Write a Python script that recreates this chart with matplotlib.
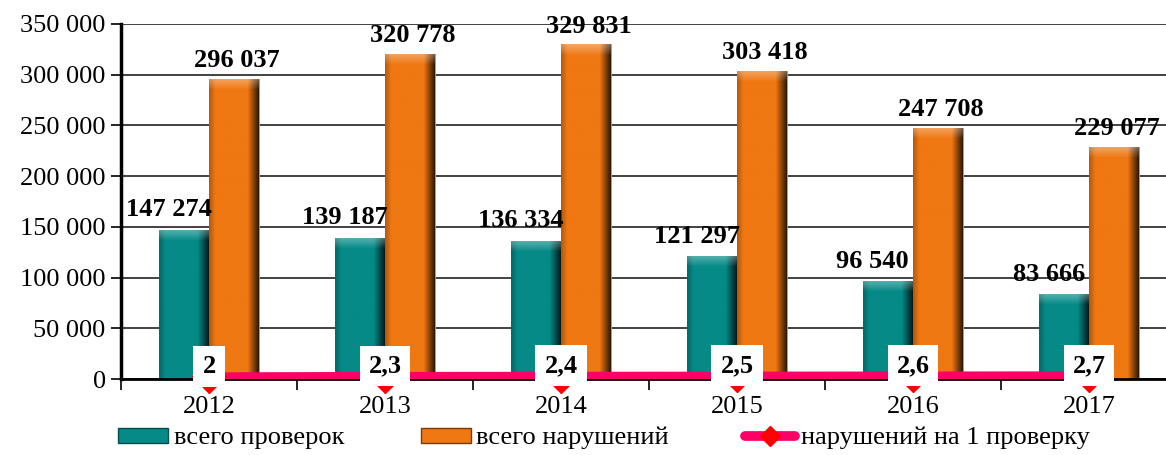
import numpy as np
import matplotlib
matplotlib.use('Agg')
import matplotlib.pyplot as plt
from matplotlib.patches import Patch
from matplotlib.lines import Line2D
from matplotlib.ticker import FuncFormatter, FixedLocator

# данные
years = ['2012', '2013', '2014', '2015', '2016', '2017']
proverki = [147274, 139187, 136334, 121297, 96540, 83666]
narusheniya = [296037, 320778, 329831, 303418, 247708, 229077]
na_proverku = [2, 2.3, 2.4, 2.5, 2.6, 2.7]
na_proverku_txt = ['2', '2,3', '2,4', '2,5', '2,6', '2,7']

teal = '#058a87'
orange = '#f07812'
pink = '#ff0066'

plt.rcParams['font.family'] = ['Liberation Serif', 'DejaVu Serif']

fig = plt.figure(figsize=(11.66, 4.55), dpi=100)
ax = fig.add_axes([121/1166, 76/455, 1056/1166, 355/455])

x = np.arange(len(years))
w = 0.284


def shade(bars, base):
    # имитация объёмной заливки
    c = np.array(matplotlib.colors.to_rgb(base))
    t = np.linspace(0, 1, 60)
    k = np.where(t < 0.12, 0.75 + 2.0*t, np.where(t > 0.78, 1 - (t - 0.78)*3.6, 1.0))
    img = np.clip(c[None, None, :] * k[None, :, None], 0, 1)
    hl = np.zeros((20, 1, 4))
    hl[:, 0, :3] = 1.0
    hl[:, 0, 3] = np.linspace(0.35, 0.0, 20)
    dh = 11000
    for b in bars:
        x0, y0, bw, bh = b.get_x(), b.get_y(), b.get_width(), b.get_height()
        im = ax.imshow(img, extent=(x0, x0 + bw, y0, y0 + bh), aspect='auto',
                       zorder=2.1, interpolation='bilinear')
        im.set_clip_path(b)
        im2 = ax.imshow(hl, extent=(x0, x0 + bw, y0 + bh - dh, y0 + bh), aspect='auto',
                        zorder=2.2, interpolation='bilinear')
        im2.set_clip_path(b)


b1 = ax.bar(x - w/2, proverki, w, color=teal, edgecolor='#9a9a9a', lw=0.6, zorder=2)
b2 = ax.bar(x + w/2, narusheniya, w, color=orange, edgecolor='#9a9a9a', lw=0.6, zorder=2)
shade(b1, teal)
shade(b2, orange)

for b, v in zip(b1, proverki):
    ax.annotate(f'{v:,}'.replace(',', ' '), (b.get_x() + b.get_width()/2, v),
                xytext=(-11, 6), textcoords='offset points', ha='center', va='bottom',
                fontsize=19, fontweight='bold', zorder=5)
for b, v in zip(b2, narusheniya):
    ax.annotate(f'{v:,}'.replace(',', ' '), (b.get_x() + b.get_width()/2, v),
                xytext=(2, 5), textcoords='offset points', ha='center', va='bottom',
                fontsize=19, fontweight='bold', zorder=5)

ax.set_xlim(-0.5, 5.5)
ax.set_ylim(0, 350000)
ax.yaxis.set_major_locator(FixedLocator(np.arange(0, 350001, 50000)))
ax.yaxis.set_major_formatter(FuncFormatter(lambda v, p: f'{int(v):,}'.replace(',', ' ')))
ax.set_xticks(x)
ax.set_xticklabels(years)
ax.set_xticks(np.arange(-0.5, 6, 1), minor=True)
ax.tick_params(axis='x', which='major', length=0, pad=12, labelsize=19)
ax.tick_params(axis='x', which='minor', length=8, width=1.2, color='black')
ax.tick_params(axis='y', length=7, width=1.2, labelsize=19, pad=4)
ax.grid(axis='y', color='#333333', lw=1.3, zorder=0)
ax.set_axisbelow(True)
for s in ['top', 'right']:
    ax.spines[s].set_visible(False)
ax.spines['left'].set_linewidth(2.5)
ax.spines['bottom'].set_linewidth(2)

ax2 = ax.twinx()
ax2.set_ylim(0, 250)
ax2.axis('off')
ax2.plot(x, na_proverku, color=pink, lw=5.5, solid_capstyle='butt', zorder=3)
ax2.plot(x, na_proverku, ls='none', marker='D', ms=17, color='#ff0000', zorder=4, clip_on=False)
for i, (v, t) in enumerate(zip(na_proverku, na_proverku_txt)):
    ax2.annotate(t, (i, v), xytext=(0, 7), textcoords='offset points', ha='center', va='center',
                 fontsize=19, fontweight='bold', zorder=6,
                 bbox=dict(boxstyle='square,pad=0.34', fc='white', ec='none'))

handles = [Patch(facecolor=teal, edgecolor='#034f4d'),
           Patch(facecolor=orange, edgecolor='#7a3a05'),
           Line2D([], [], color=pink, lw=7, marker='D', ms=10, mfc='#ff0000', mec='#ff0000',
                  solid_capstyle='round')]
fig.legend(handles, ['всего проверок', 'всего нарушений', 'нарушений на 1 проверку'],
           loc='lower left', bbox_to_anchor=(0.081, -0.04), ncol=3, frameon=False,
           fontsize=19, handlelength=1.9, handleheight=0.5, handletextpad=0.2,
           columnspacing=2.9)

fig.savefig('out.png', dpi=100)
